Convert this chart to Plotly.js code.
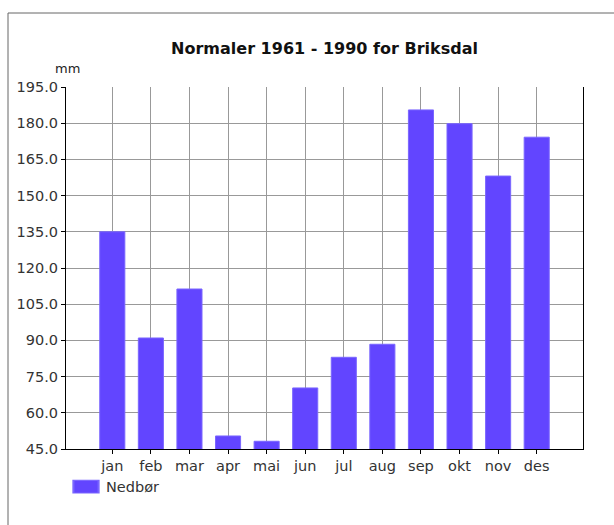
<!DOCTYPE html>
<html>
<head>
<meta charset="utf-8">
<script src="https://cdn.plot.ly/plotly-3.0.1.min.js"></script>
<style>html,body{margin:0;padding:0;background:#fff;}#chart{width:614px;height:525px;}</style>
</head>
<body>
<div id="chart"></div>
<script>
const months = ["jan","feb","mar","apr","mai","jun","jul","aug","sep","okt","nov","des"];
const precip = [135.0, 91.0, 111.3, 50.4, 48.2, 70.3, 83.0, 88.4, 185.5, 179.8, 158.1, 174.2];
const seriesName = "Nedbør";
const chartTitle = "Normaler 1961 - 1990 for Briksdal";
const unitLabel = "mm";

const font = "DejaVu Sans, Verdana, sans-serif";
const trace = {
  type: "bar",
  x: months,
  y: precip,
  name: seriesName,
  marker: {color: "#6245ff", line: {color: "#7a66ff", width: 1}},
  showlegend: true,
  hoverinfo: "x+y"
};
const layout = {
  width: 614, height: 525,
  margin: {l: 66, r: 31, t: 87, b: 76, pad: 0},
  paper_bgcolor: "#fff", plot_bgcolor: "#fff",
  font: {family: font, size: 14, color: "#333"},
  title: {text: chartTitle, xref: "paper", x: 0.5, xanchor: "center",
          yref: "container", y: 1 - 48/525, yanchor: "middle",
          font: {family: font, size: 16, color: "#111", weight: "bold"}},
  bargap: 0.35,
  xaxis: {type: "category", range: [-1.2, 12.2], showgrid: true, gridcolor: "#999", gridwidth: 1,
          showline: true, linecolor: "#000", linewidth: 1, mirror: false,
          ticks: "outside", ticklen: 4, tickcolor: "#000", zeroline: false,
          tickfont: {family: font, size: 14.5, color: "#333"}},
  yaxis: {range: [45, 195], dtick: 15, tick0: 45, tickformat: ".1f", showgrid: true, gridcolor: "#999", gridwidth: 1,
          showline: true, linecolor: "#000", linewidth: 1, mirror: true,
          ticks: "outside", ticklen: 4, tickcolor: "#000", zeroline: false,
          tickfont: {family: font, size: 14.5, color: "#333"}},
  legend: {orientation: "h", x: 0, xanchor: "left", y: -0.06, yanchor: "top",
           font: {family: font, size: 14.5, color: "#333"}, bgcolor: "rgba(0,0,0,0)"},
  annotations: [{text: unitLabel, xref: "paper", yref: "paper", x: 1/517, y: (449-68)/362,
                 xanchor: "center", yanchor: "middle", showarrow: false,
                 font: {family: font, size: 13, color: "#222"}}],
  shapes: [
    {type: "line", xref: "paper", yref: "paper", x0: (8-66)/517, x1: (614-66)/517, y0: (449-13)/362, y1: (449-13)/362,
     line: {color: "#666", width: 1}},
    {type: "line", xref: "paper", yref: "paper", x0: (8-66)/517, x1: (8-66)/517, y0: (449-13)/362, y1: (449-525)/362,
     line: {color: "#666", width: 1}}
  ]
};
Plotly.newPlot("chart", [trace], layout, {staticPlot: true}).then(() => {
  document.querySelectorAll(".legendpoints path").forEach(p => {
    p.setAttribute("transform", "translate(20,0) scale(2.1,1.05)");
  });
});
</script>
</body>
</html>
